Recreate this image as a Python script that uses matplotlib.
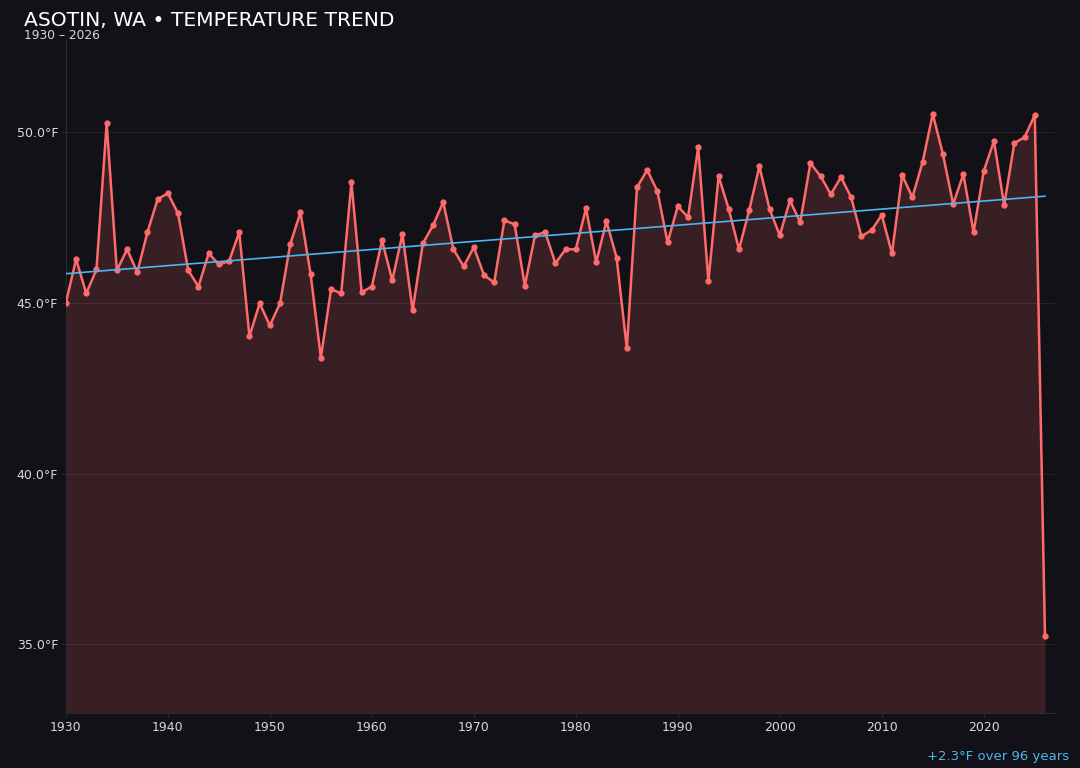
import numpy as np
import matplotlib
matplotlib.use('Agg')
import matplotlib.pyplot as plt

years = np.arange(1930, 2027)
temps = [
    45.00, 46.28, 45.28, 45.98, 50.26, 45.95, 46.57, 45.90, 47.07, 48.04,
    48.21, 47.62, 45.95, 45.48, 46.45, 46.13, 46.22, 47.07, 44.02, 44.99,
    44.34, 44.99, 46.72, 47.65, 45.84, 43.40, 45.40, 45.28, 48.53, 45.31,
    45.48, 46.83, 45.66, 47.01, 44.78, 46.74, 47.27, 47.95, 46.57, 46.07,
    46.63, 45.81, 45.60, 47.42, 47.30, 45.51, 46.98, 47.07, 46.16, 46.57,
    46.57, 47.77, 46.19, 47.39, 46.33, 43.67, 48.39, 48.89, 48.27, 46.77,
    47.83, 47.51, 49.56, 45.63, 48.71, 47.74, 46.57, 47.71, 49.00, 47.74,
    46.98, 48.00, 47.36, 49.09, 48.71, 48.18, 48.68, 48.09, 46.95, 47.13,
    47.57, 46.45, 48.74, 48.09, 49.12, 50.53, 49.35, 47.89, 48.77, 47.07,
    48.86, 49.74, 47.86, 49.68, 49.85, 50.50, 35.25,
]
temps = np.array(temps)
y_ticks = [35.0, 40.0, 45.0, 50.0]
x_ticks = list(range(1930, 2021, 10))

bg = '#121117'
line_c = '#ff6b6b'
trend_c = '#4fb3f0'

# linear trend over the whole record
slope, icept = np.polyfit(years, temps, 1)
trend = slope * years + icept
change = trend[-1] - trend[0]

fig = plt.figure(figsize=(10.8, 7.68), dpi=100, facecolor=bg)
ax = fig.add_axes([0.061, 0.071, 0.916, 0.877])
ax.set_facecolor(bg)

ymin = 32.98
ax.fill_between(years, temps, ymin, color=line_c, alpha=0.16, lw=0)
ax.plot(years, temps, color=line_c, lw=1.8, marker='o', ms=3.5, zorder=3)
ax.plot(years, trend, color=trend_c, lw=1.2, zorder=4)

ax.set_xlim(1930, 2027)
ax.set_ylim(ymin, 52.70)
ax.set_yticks(y_ticks)
ax.set_yticklabels([f'{v:.1f}°F' for v in y_ticks])
ax.set_xticks(x_ticks)
ax.grid(axis='y', color='#2a2228', lw=0.8)
ax.set_axisbelow(True)
for s in ['top', 'right']:
    ax.spines[s].set_visible(False)
for s in ['left', 'bottom']:
    ax.spines[s].set_color('#2a2a32')
ax.tick_params(colors='#2a2a32', labelcolor='#d8d8dc', labelsize=9,
               length=3, pad=2.5)

fig.text(0.022, 0.973, 'ASOTIN, WA • TEMPERATURE TREND', color='white',
         fontsize=14.6, va='center', ha='left')
fig.text(0.022, 0.954, '1930 – 2026', color='#d8d8dc', fontsize=8.8,
         va='center', ha='left')
fig.text(0.99, 0.006, f'{change:+.1f}°F over {years[-1] - years[0]} years',
         color=trend_c, fontsize=9.5, ha='right', va='bottom')

fig.savefig('out.png', dpi=100, facecolor=bg)
